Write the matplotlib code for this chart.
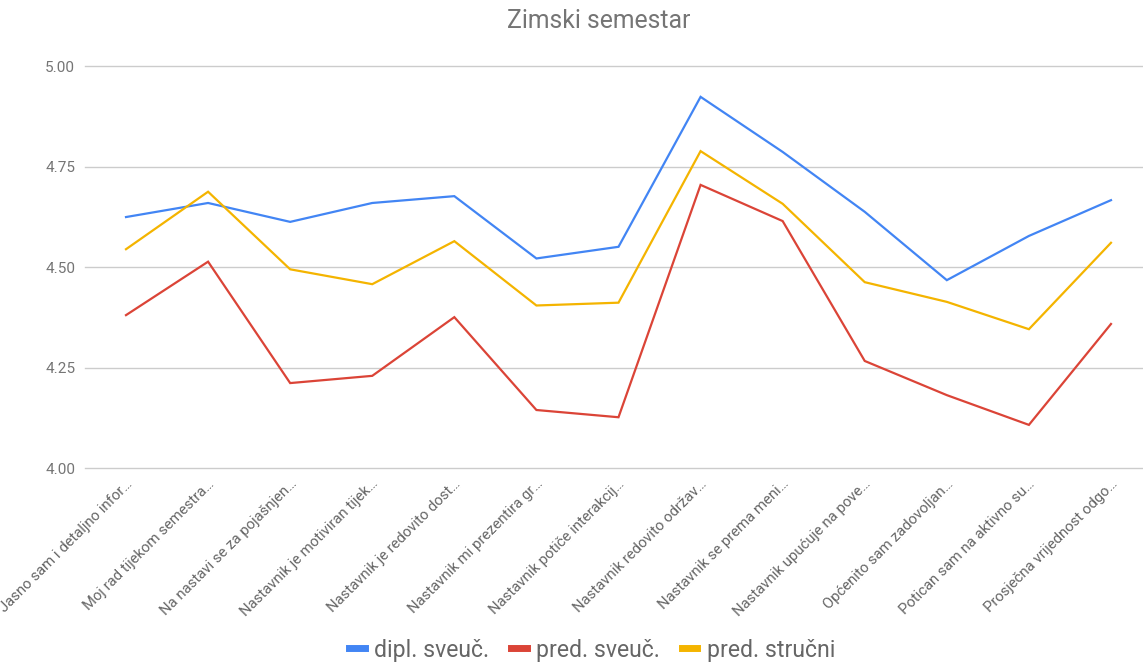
import matplotlib.pyplot as plt
import matplotlib.transforms as mtransforms

plt.rcParams['font.family'] = ['Roboto', 'DejaVu Sans']

categories = [
    "Jasno sam i detaljno infor…",
    "Moj rad tijekom semestra…",
    "Na nastavi se za pojašnjen…",
    "Nastavnik je motiviran tijek…",
    "Nastavnik je redovito dost…",
    "Nastavnik mi prezentira gr…",
    "Nastavnik potiče interakcij…",
    "Nastavnik redovito održav…",
    "Nastavnik se prema meni…",
    "Nastavnik upućuje na pove…",
    "Općenito sam zadovoljan…",
    "Potican sam na aktivno su…",
    "Prosječna vrijednost odgo…",
]
dipl_sveuc = [4.625, 4.660, 4.613, 4.660, 4.677, 4.522, 4.551,
              4.924, 4.787, 4.638, 4.468, 4.578, 4.667]
pred_sveuc = [4.381, 4.514, 4.212, 4.230, 4.376, 4.145, 4.127,
              4.705, 4.615, 4.267, 4.182, 4.108, 4.359]
pred_strucni = [4.545, 4.688, 4.495, 4.458, 4.565, 4.405, 4.412,
                4.789, 4.658, 4.463, 4.414, 4.346, 4.561]
series = [
    ("dipl. sveuč.", dipl_sveuc, "#4285f4"),
    ("pred. sveuč.", pred_sveuc, "#db4437"),
    ("pred. stručni", pred_strucni, "#f4b400"),
]
yticks = [4.00, 4.25, 4.50, 4.75, 5.00]

W, H = 1143, 663
fig = plt.figure(figsize=(W / 100, H / 100), dpi=100)
ax = fig.add_axes([85 / W, 1 - 468.3 / H, (W - 85) / W, 402 / H])

x = list(range(len(categories)))
for name, vals, col in series:
    ax.plot(x, vals, color=col, lw=1.6, label=name, solid_joinstyle='miter')

ax.set_xlim(-0.4995, 12.39)
ax.set_ylim(4.0, 5.0)
ax.set_yticks(yticks)
ax.set_yticklabels([f"{v:.2f}" for v in yticks])
ax.grid(axis='y', color='#cccccc', lw=1)
for gl in ax.get_ygridlines():
    gl.set_clip_on(False)
ax.set_axisbelow(True)
for s in ax.spines.values():
    s.set_visible(False)
ax.tick_params(axis='y', length=0, pad=7, labelsize=11, labelcolor='#757575')
ax.tick_params(axis='x', length=0, pad=6, labelsize=10.7, labelcolor='#666666')

ax.set_xticks(x)
ax.set_xticklabels(categories, rotation=45, ha='right')
offset = mtransforms.ScaledTranslation(0.09, 0, fig.dpi_scale_trans)
for lbl in ax.get_xticklabels():
    lbl.set_transform(lbl.get_transform() + offset)

fig.text(599 / W, 1 - 21 / H, "Zimski semestar", ha='center', va='center',
         fontsize=17.8, color='#757575')

leg = ax.legend(loc='center', bbox_to_anchor=(592 / W, 1 - 650 / H),
                bbox_transform=fig.transFigure, ncol=3, frameon=False,
                fontsize=16.6, handlelength=0.68, handletextpad=0.4,
                columnspacing=0.95, borderpad=0)
for h in leg.get_lines():
    h.set_linewidth(5)
for t in leg.get_texts():
    t.set_color('#666666')

fig.savefig("out.png", dpi=100)
